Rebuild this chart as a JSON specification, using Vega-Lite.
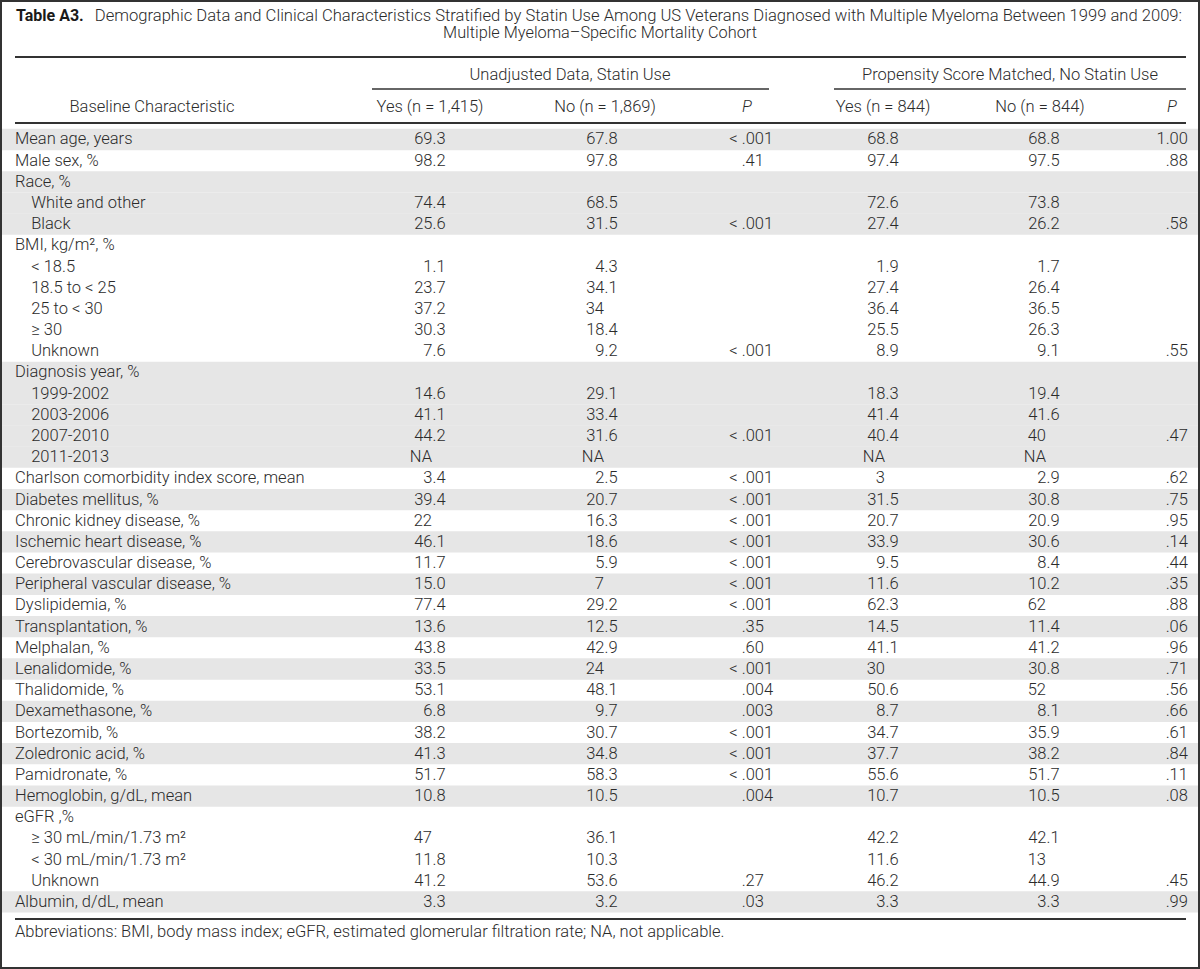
{
  "$schema": "https://vega.github.io/schema/vega-lite/v6.json",
  "width": 1200,
  "height": 969,
  "padding": 0,
  "autosize": {"type": "none"},
  "background": "white",
  "view": {"stroke": null},
  "config": {
    "axis": {"disable": true},
    "text": {"font": "Roboto", "fontSize": 16.5, "fontWeight": 300, "color": "#2b2b2b", "baseline": "middle"}
  },
  "datasets": {
    "rows": [
      {"i": 0, "g": 0, "label": "Mean age, years", "uy": "69.3", "un": "67.8", "up": "< .001", "my": "68.8", "mn": "68.8", "mp": "1.00"},
      {"i": 1, "g": 1, "label": "Male sex, %", "uy": "98.2", "un": "97.8", "up": ".41", "my": "97.4", "mn": "97.5", "mp": ".88"},
      {"i": 2, "g": 2, "label": "Race, %"},
      {"i": 3, "g": 2, "sub": true, "label": "White and other", "uy": "74.4", "un": "68.5", "my": "72.6", "mn": "73.8"},
      {"i": 4, "g": 2, "sub": true, "label": "Black", "uy": "25.6", "un": "31.5", "up": "< .001", "my": "27.4", "mn": "26.2", "mp": ".58"},
      {"i": 5, "g": 3, "label": "BMI, kg/m², %"},
      {"i": 6, "g": 3, "sub": true, "label": "< 18.5", "uy": "1.1", "un": "4.3", "my": "1.9", "mn": "1.7"},
      {"i": 7, "g": 3, "sub": true, "label": "18.5 to < 25", "uy": "23.7", "un": "34.1", "my": "27.4", "mn": "26.4"},
      {"i": 8, "g": 3, "sub": true, "label": "25 to < 30", "uy": "37.2", "un": "34", "my": "36.4", "mn": "36.5"},
      {"i": 9, "g": 3, "sub": true, "label": "≥ 30", "uy": "30.3", "un": "18.4", "my": "25.5", "mn": "26.3"},
      {"i": 10, "g": 3, "sub": true, "label": "Unknown", "uy": "7.6", "un": "9.2", "up": "< .001", "my": "8.9", "mn": "9.1", "mp": ".55"},
      {"i": 11, "g": 4, "label": "Diagnosis year, %"},
      {"i": 12, "g": 4, "sub": true, "label": "1999-2002", "uy": "14.6", "un": "29.1", "my": "18.3", "mn": "19.4"},
      {"i": 13, "g": 4, "sub": true, "label": "2003-2006", "uy": "41.1", "un": "33.4", "my": "41.4", "mn": "41.6"},
      {"i": 14, "g": 4, "sub": true, "label": "2007-2010", "uy": "44.2", "un": "31.6", "up": "< .001", "my": "40.4", "mn": "40", "mp": ".47"},
      {"i": 15, "g": 4, "sub": true, "label": "2011-2013", "uy": "NA", "un": "NA", "my": "NA", "mn": "NA"},
      {"i": 16, "g": 5, "label": "Charlson comorbidity index score, mean", "uy": "3.4", "un": "2.5", "up": "< .001", "my": "3", "mn": "2.9", "mp": ".62"},
      {"i": 17, "g": 6, "label": "Diabetes mellitus, %", "uy": "39.4", "un": "20.7", "up": "< .001", "my": "31.5", "mn": "30.8", "mp": ".75"},
      {"i": 18, "g": 7, "label": "Chronic kidney disease, %", "uy": "22", "un": "16.3", "up": "< .001", "my": "20.7", "mn": "20.9", "mp": ".95"},
      {"i": 19, "g": 8, "label": "Ischemic heart disease, %", "uy": "46.1", "un": "18.6", "up": "< .001", "my": "33.9", "mn": "30.6", "mp": ".14"},
      {"i": 20, "g": 9, "label": "Cerebrovascular disease, %", "uy": "11.7", "un": "5.9", "up": "< .001", "my": "9.5", "mn": "8.4", "mp": ".44"},
      {"i": 21, "g": 10, "label": "Peripheral vascular disease, %", "uy": "15.0", "un": "7", "up": "< .001", "my": "11.6", "mn": "10.2", "mp": ".35"},
      {"i": 22, "g": 11, "label": "Dyslipidemia, %", "uy": "77.4", "un": "29.2", "up": "< .001", "my": "62.3", "mn": "62", "mp": ".88"},
      {"i": 23, "g": 12, "label": "Transplantation, %", "uy": "13.6", "un": "12.5", "up": ".35", "my": "14.5", "mn": "11.4", "mp": ".06"},
      {"i": 24, "g": 13, "label": "Melphalan, %", "uy": "43.8", "un": "42.9", "up": ".60", "my": "41.1", "mn": "41.2", "mp": ".96"},
      {"i": 25, "g": 14, "label": "Lenalidomide, %", "uy": "33.5", "un": "24", "up": "< .001", "my": "30", "mn": "30.8", "mp": ".71"},
      {"i": 26, "g": 15, "label": "Thalidomide, %", "uy": "53.1", "un": "48.1", "up": ".004", "my": "50.6", "mn": "52", "mp": ".56"},
      {"i": 27, "g": 16, "label": "Dexamethasone, %", "uy": "6.8", "un": "9.7", "up": ".003", "my": "8.7", "mn": "8.1", "mp": ".66"},
      {"i": 28, "g": 17, "label": "Bortezomib, %", "uy": "38.2", "un": "30.7", "up": "< .001", "my": "34.7", "mn": "35.9", "mp": ".61"},
      {"i": 29, "g": 18, "label": "Zoledronic acid, %", "uy": "41.3", "un": "34.8", "up": "< .001", "my": "37.7", "mn": "38.2", "mp": ".84"},
      {"i": 30, "g": 19, "label": "Pamidronate, %", "uy": "51.7", "un": "58.3", "up": "< .001", "my": "55.6", "mn": "51.7", "mp": ".11"},
      {"i": 31, "g": 20, "label": "Hemoglobin, g/dL, mean", "uy": "10.8", "un": "10.5", "up": ".004", "my": "10.7", "mn": "10.5", "mp": ".08"},
      {"i": 32, "g": 21, "label": "eGFR ,%"},
      {"i": 33, "g": 21, "sub": true, "label": "≥ 30 mL/min/1.73 m²", "uy": "47", "un": "36.1", "my": "42.2", "mn": "42.1"},
      {"i": 34, "g": 21, "sub": true, "label": "< 30 mL/min/1.73 m²", "uy": "11.8", "un": "10.3", "my": "11.6", "mn": "13"},
      {"i": 35, "g": 21, "sub": true, "label": "Unknown", "uy": "41.2", "un": "53.6", "up": ".27", "my": "46.2", "mn": "44.9", "mp": ".45"},
      {"i": 36, "g": 22, "label": "Albumin, d/dL, mean", "uy": "3.3", "un": "3.2", "up": ".03", "my": "3.3", "mn": "3.3", "mp": ".99"}
    ]
  },
  "layer": [
    {
      "data": {"name": "rows"},
      "transform": [{"filter": "datum.g % 2 == 0"}],
      "mark": {"type": "rule", "color": "#e6e6e6", "strokeWidth": 21.3, "strokeCap": "butt"},
      "encoding": {
        "y": {"field": "i", "type": "quantitative", "axis": null, "scale": {"domain": [-6.586, 39.165], "reverse": true, "nice": false, "zero": false}}
      }
    },
    {
      "data": {"values": [{}]},
      "mark": {"type": "rule", "color": "#333333", "strokeWidth": 2},
      "encoding": {
        "x": {"datum": 1.25, "type": "quantitative", "axis": null, "scale": {"domain": [0, 100], "nice": false, "zero": false}},
        "x2": {"datum": 98.833},
        "y": {"datum": -3.895, "type": "quantitative", "axis": null, "scale": {"domain": [-6.586, 39.165], "reverse": true, "nice": false, "zero": false}}
      }
    },
    {
      "data": {"values": [{}]},
      "mark": {"type": "rule", "color": "#333333", "strokeWidth": 2},
      "encoding": {
        "x": {"datum": 1.25, "type": "quantitative", "axis": null},
        "x2": {"datum": 98.833},
        "y": {"datum": -0.779, "type": "quantitative", "axis": null}
      }
    },
    {
      "data": {"values": [{}]},
      "mark": {"type": "rule", "color": "#333333", "strokeWidth": 2},
      "encoding": {
        "x": {"datum": 1.25, "type": "quantitative", "axis": null},
        "x2": {"datum": 98.833},
        "y": {"datum": 36.803, "type": "quantitative", "axis": null}
      }
    },
    {
      "data": {"values": [{}]},
      "mark": {"type": "rule", "color": "#333333", "strokeWidth": 1.5},
      "encoding": {
        "x": {"datum": 31.0, "type": "quantitative", "axis": null},
        "x2": {"datum": 64.083},
        "y": {"datum": -2.384, "type": "quantitative", "axis": null}
      }
    },
    {
      "data": {"values": [{}]},
      "mark": {"type": "rule", "color": "#333333", "strokeWidth": 1.5},
      "encoding": {
        "x": {"datum": 69.5, "type": "quantitative", "axis": null},
        "x2": {"datum": 98.833},
        "y": {"datum": -2.384, "type": "quantitative", "axis": null}
      }
    },
    {
      "data": {"values": [{}]},
      "mark": {"type": "text", "align": "left", "font": "Roboto", "fontWeight": "bold", "fontSize": 16, "color": "#1a1a1a"},
      "encoding": {
        "x": {"datum": 1.333, "type": "quantitative", "axis": null},
        "y": {"datum": -5.831, "type": "quantitative", "axis": null},
        "text": {"value": "Table A3."}
      }
    },
    {
      "data": {"values": [{}]},
      "mark": {"type": "text", "align": "left", "fontSize": 16.6},
      "encoding": {
        "x": {"datum": 7.9, "type": "quantitative", "axis": null},
        "y": {"datum": -5.831, "type": "quantitative", "axis": null},
        "text": {"value": "Demographic Data and Clinical Characteristics Stratified by Statin Use Among US Veterans Diagnosed with Multiple Myeloma Between 1999 and 2009:"}
      }
    },
    {
      "data": {"values": [{}]},
      "mark": {"type": "text", "align": "center", "fontSize": 16.3},
      "encoding": {
        "x": {"datum": 50, "type": "quantitative", "axis": null},
        "y": {"datum": -5.028, "type": "quantitative", "axis": null},
        "text": {"value": "Multiple Myeloma–Specific Mortality Cohort"}
      }
    },
    {
      "data": {"values": [{}]},
      "mark": {"type": "text", "align": "center"},
      "encoding": {
        "x": {"datum": 47.5, "type": "quantitative", "axis": null},
        "y": {"datum": -3.045, "type": "quantitative", "axis": null},
        "text": {"value": "Unadjusted Data, Statin Use"}
      }
    },
    {
      "data": {"values": [{}]},
      "mark": {"type": "text", "align": "center"},
      "encoding": {
        "x": {"datum": 84.167, "type": "quantitative", "axis": null},
        "y": {"datum": -3.045, "type": "quantitative", "axis": null},
        "text": {"value": "Propensity Score Matched, No Statin Use"}
      }
    },
    {
      "data": {"values": [{}]},
      "mark": {"type": "text", "align": "center"},
      "encoding": {
        "x": {"datum": 12.667, "type": "quantitative", "axis": null},
        "y": {"datum": -1.534, "type": "quantitative", "axis": null},
        "text": {"value": "Baseline Characteristic"}
      }
    },
    {
      "data": {"values": [{}]},
      "mark": {"type": "text", "align": "center"},
      "encoding": {
        "x": {"datum": 35.833, "type": "quantitative", "axis": null},
        "y": {"datum": -1.534, "type": "quantitative", "axis": null},
        "text": {"value": "Yes (n = 1,415)"}
      }
    },
    {
      "data": {"values": [{}]},
      "mark": {"type": "text", "align": "center"},
      "encoding": {
        "x": {"datum": 50.417, "type": "quantitative", "axis": null},
        "y": {"datum": -1.534, "type": "quantitative", "axis": null},
        "text": {"value": "No (n = 1,869)"}
      }
    },
    {
      "data": {"values": [{}]},
      "mark": {"type": "text", "align": "center", "fontStyle": "italic"},
      "encoding": {
        "x": {"datum": 62.25, "type": "quantitative", "axis": null},
        "y": {"datum": -1.534, "type": "quantitative", "axis": null},
        "text": {"value": "P"}
      }
    },
    {
      "data": {"values": [{}]},
      "mark": {"type": "text", "align": "center"},
      "encoding": {
        "x": {"datum": 73.583, "type": "quantitative", "axis": null},
        "y": {"datum": -1.534, "type": "quantitative", "axis": null},
        "text": {"value": "Yes (n = 844)"}
      }
    },
    {
      "data": {"values": [{}]},
      "mark": {"type": "text", "align": "center"},
      "encoding": {
        "x": {"datum": 86.667, "type": "quantitative", "axis": null},
        "y": {"datum": -1.534, "type": "quantitative", "axis": null},
        "text": {"value": "No (n = 844)"}
      }
    },
    {
      "data": {"values": [{}]},
      "mark": {"type": "text", "align": "center", "fontStyle": "italic"},
      "encoding": {
        "x": {"datum": 97.667, "type": "quantitative", "axis": null},
        "y": {"datum": -1.534, "type": "quantitative", "axis": null},
        "text": {"value": "P"}
      }
    },
    {
      "data": {"name": "rows"},
      "transform": [{"filter": "!datum.sub"}],
      "mark": {"type": "text", "align": "left"},
      "encoding": {
        "x": {"datum": 1.25, "type": "quantitative", "axis": null},
        "y": {"field": "i", "type": "quantitative", "axis": null},
        "text": {"field": "label"}
      }
    },
    {
      "data": {"name": "rows"},
      "transform": [{"filter": "datum.sub"}],
      "mark": {"type": "text", "align": "left"},
      "encoding": {
        "x": {"datum": 2.6, "type": "quantitative", "axis": null},
        "y": {"field": "i", "type": "quantitative", "axis": null},
        "text": {"field": "label"}
      }
    },
    {
      "data": {"name": "rows"},
      "transform": [{"filter": "datum.uy && indexof(datum.uy, '.') < 0"}],
      "mark": {"type": "text", "align": "right"},
      "encoding": {
        "x": {"datum": 36.0, "type": "quantitative", "axis": null},
        "y": {"field": "i", "type": "quantitative", "axis": null},
        "text": {"field": "uy"}
      }
    },
    {
      "data": {"name": "rows"},
      "transform": [{"filter": "test(/\\.\\d$/, datum.uy)"}],
      "mark": {"type": "text", "align": "right", "dx": 13.6},
      "encoding": {
        "x": {"datum": 36.0, "type": "quantitative", "axis": null},
        "y": {"field": "i", "type": "quantitative", "axis": null},
        "text": {"field": "uy"}
      }
    },
    {
      "data": {"name": "rows"},
      "transform": [{"filter": "datum.un && indexof(datum.un, '.') < 0"}],
      "mark": {"type": "text", "align": "right"},
      "encoding": {
        "x": {"datum": 50.333, "type": "quantitative", "axis": null},
        "y": {"field": "i", "type": "quantitative", "axis": null},
        "text": {"field": "un"}
      }
    },
    {
      "data": {"name": "rows"},
      "transform": [{"filter": "test(/\\.\\d$/, datum.un)"}],
      "mark": {"type": "text", "align": "right", "dx": 13.6},
      "encoding": {
        "x": {"datum": 50.333, "type": "quantitative", "axis": null},
        "y": {"field": "i", "type": "quantitative", "axis": null},
        "text": {"field": "un"}
      }
    },
    {
      "data": {"name": "rows"},
      "transform": [{"filter": "test(/\\.\\d\\d$/, datum.up) && !test(/\\.\\d\\d\\d$/, datum.up)"}],
      "mark": {"type": "text", "align": "right", "dx": 22.9},
      "encoding": {
        "x": {"datum": 61.75, "type": "quantitative", "axis": null},
        "y": {"field": "i", "type": "quantitative", "axis": null},
        "text": {"field": "up"}
      }
    },
    {
      "data": {"name": "rows"},
      "transform": [{"filter": "test(/\\.\\d\\d\\d$/, datum.up)"}],
      "mark": {"type": "text", "align": "right", "dx": 32.1},
      "encoding": {
        "x": {"datum": 61.75, "type": "quantitative", "axis": null},
        "y": {"field": "i", "type": "quantitative", "axis": null},
        "text": {"field": "up"}
      }
    },
    {
      "data": {"name": "rows"},
      "transform": [{"filter": "datum.my && indexof(datum.my, '.') < 0"}],
      "mark": {"type": "text", "align": "right"},
      "encoding": {
        "x": {"datum": 73.75, "type": "quantitative", "axis": null},
        "y": {"field": "i", "type": "quantitative", "axis": null},
        "text": {"field": "my"}
      }
    },
    {
      "data": {"name": "rows"},
      "transform": [{"filter": "test(/\\.\\d$/, datum.my)"}],
      "mark": {"type": "text", "align": "right", "dx": 13.6},
      "encoding": {
        "x": {"datum": 73.75, "type": "quantitative", "axis": null},
        "y": {"field": "i", "type": "quantitative", "axis": null},
        "text": {"field": "my"}
      }
    },
    {
      "data": {"name": "rows"},
      "transform": [{"filter": "datum.mn && indexof(datum.mn, '.') < 0"}],
      "mark": {"type": "text", "align": "right"},
      "encoding": {
        "x": {"datum": 87.167, "type": "quantitative", "axis": null},
        "y": {"field": "i", "type": "quantitative", "axis": null},
        "text": {"field": "mn"}
      }
    },
    {
      "data": {"name": "rows"},
      "transform": [{"filter": "test(/\\.\\d$/, datum.mn)"}],
      "mark": {"type": "text", "align": "right", "dx": 13.6},
      "encoding": {
        "x": {"datum": 87.167, "type": "quantitative", "axis": null},
        "y": {"field": "i", "type": "quantitative", "axis": null},
        "text": {"field": "mn"}
      }
    },
    {
      "data": {"name": "rows"},
      "transform": [{"filter": "test(/\\.\\d\\d$/, datum.mp)"}],
      "mark": {"type": "text", "align": "right", "dx": 22.9},
      "encoding": {
        "x": {"datum": 97.083, "type": "quantitative", "axis": null},
        "y": {"field": "i", "type": "quantitative", "axis": null},
        "text": {"field": "mp"}
      }
    },
    {
      "data": {"values": [{}]},
      "mark": {"type": "text", "align": "left"},
      "encoding": {
        "x": {"datum": 1.25, "type": "quantitative", "axis": null},
        "y": {"datum": 37.417, "type": "quantitative", "axis": null},
        "text": {"value": "Abbreviations: BMI, body mass index; eGFR, estimated glomerular filtration rate; NA, not applicable."}
      }
    },
    {
      "data": {"values": [{}]},
      "mark": {"type": "rect", "fill": null, "fillOpacity": 0, "stroke": "#333333", "strokeWidth": 4},
      "encoding": {}
    }
  ]
}
